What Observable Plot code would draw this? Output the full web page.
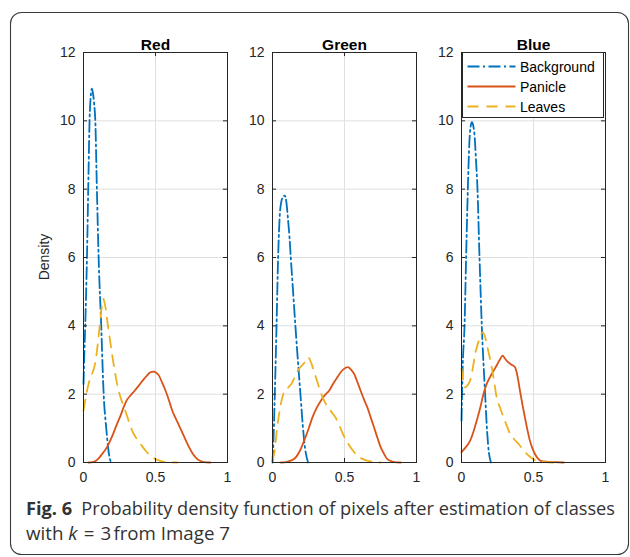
<!DOCTYPE html>
<html>
<head>
<meta charset="utf-8">
<script src="https://cdn.jsdelivr.net/npm/d3@7"></script>
<script src="https://cdn.jsdelivr.net/npm/@observablehq/plot@0.6"></script>
<style>
  html, body { margin: 0; padding: 0; background: #fff; }
  #wrap { position: relative; width: 630px; height: 557px; overflow: hidden; background: #fff; }
  #wrap > .panel { position: absolute; top: 0; }
  #wrap > svg.overlay { position: absolute; left: 0; top: 0; pointer-events: none; }
</style>
</head>
<body>
<div id="wrap"></div>
<script>
// ---------- data ----------
const panelNames = ["Red", "Green", "Blue"];
const classNames = ["Background", "Panicle", "Leaves"];
const xTicks = [0, 0.5, 1];
const yTicks = [0, 2, 4, 6, 8, 10, 12];

// Red channel
const redBackgroundX = [0, 0.006, 0.012, 0.024, 0.035, 0.042, 0.05, 0.058, 0.066, 0.074, 0.082, 0.093, 0.105, 0.123, 0.14, 0.158, 0.175, 0.19];
const redBackgroundY = [2.3, 3.2, 4.0, 6.0, 8.5, 10.0, 10.7, 10.94, 10.8, 10.5, 10.0, 8.0, 6.0, 4.0, 2.0, 1.0, 0.3, 0];
const redPanicleX = [0.035, 0.07, 0.1, 0.13, 0.163, 0.2, 0.233, 0.26, 0.279, 0.3, 0.326, 0.355, 0.384, 0.415, 0.442, 0.465, 0.484, 0.505, 0.523, 0.545, 0.57, 0.595, 0.616, 0.645, 0.675, 0.705, 0.733, 0.76, 0.79, 0.83, 0.88];
const redPanicleY = [0, 0.02, 0.1, 0.25, 0.45, 0.78, 1.13, 1.4, 1.62, 1.82, 1.96, 2.1, 2.25, 2.42, 2.55, 2.64, 2.66, 2.63, 2.55, 2.35, 2.1, 1.8, 1.52, 1.25, 0.98, 0.7, 0.45, 0.25, 0.1, 0.02, 0];
const redLeavesX = [0, 0.02, 0.035, 0.06, 0.081, 0.1, 0.115, 0.128, 0.137, 0.15, 0.17, 0.198, 0.22, 0.244, 0.27, 0.29, 0.315, 0.337, 0.365, 0.395, 0.43, 0.465, 0.5, 0.535, 0.58, 0.65];
const redLeavesY = [1.52, 2.0, 2.3, 2.6, 2.9, 3.5, 4.1, 4.6, 4.79, 4.6, 4.0, 3.18, 2.6, 2.1, 1.75, 1.52, 1.2, 0.94, 0.72, 0.55, 0.35, 0.2, 0.1, 0.05, 0.01, 0];

// Green channel
const greenBackgroundX = [0, 0.008, 0.016, 0.028, 0.039, 0.05, 0.062, 0.074, 0.085, 0.097, 0.108, 0.118, 0.127, 0.143, 0.159, 0.176, 0.194, 0.21, 0.225, 0.247];
const greenBackgroundY = [0, 0.8, 2.0, 4.0, 6.0, 7.2, 7.65, 7.78, 7.81, 7.6, 7.1, 6.6, 6.0, 5.0, 4.0, 3.0, 2.0, 1.1, 0.45, 0];
const greenPanicleX = [0.058, 0.1, 0.15, 0.185, 0.22, 0.25, 0.278, 0.307, 0.336, 0.365, 0.393, 0.42, 0.451, 0.475, 0.497, 0.512, 0.524, 0.545, 0.566, 0.59, 0.612, 0.635, 0.658, 0.682, 0.705, 0.728, 0.751, 0.775, 0.797, 0.84, 0.89];
const greenPanicleY = [0, 0.02, 0.1, 0.3, 0.64, 0.98, 1.33, 1.6, 1.81, 1.98, 2.1, 2.3, 2.5, 2.65, 2.74, 2.78, 2.79, 2.72, 2.6, 2.35, 2.1, 1.85, 1.62, 1.32, 1.03, 0.73, 0.45, 0.25, 0.1, 0.02, 0];
const greenLeavesX = [0, 0.015, 0.028, 0.04, 0.05, 0.065, 0.085, 0.11, 0.131, 0.155, 0.177, 0.2, 0.224, 0.247, 0.27, 0.293, 0.316, 0.339, 0.362, 0.385, 0.415, 0.443, 0.47, 0.5, 0.53, 0.558, 0.59, 0.627, 0.68, 0.75];
const greenLeavesY = [0.05, 0.35, 0.85, 1.25, 1.52, 1.85, 2.1, 2.2, 2.3, 2.5, 2.7, 2.82, 2.93, 3.08, 2.9, 2.6, 2.3, 2.0, 1.78, 1.62, 1.45, 1.28, 1.02, 0.74, 0.52, 0.35, 0.2, 0.1, 0.03, 0];

// Blue channel
const blueBackgroundX = [0, 0.009, 0.021, 0.032, 0.044, 0.055, 0.064, 0.072, 0.082, 0.092, 0.1, 0.111, 0.125, 0.141, 0.164, 0.178, 0.19, 0.205];
const blueBackgroundY = [1.23, 2.9, 4.0, 6.0, 8.0, 9.4, 9.85, 9.96, 9.85, 9.5, 8.9, 8.0, 6.0, 4.0, 2.0, 0.9, 0.3, 0];
const bluePanicleX = [0, 0.03, 0.06, 0.083, 0.106, 0.13, 0.152, 0.175, 0.198, 0.221, 0.244, 0.265, 0.286, 0.3, 0.32, 0.345, 0.372, 0.39, 0.406, 0.423, 0.44, 0.457, 0.475, 0.492, 0.51, 0.53, 0.55, 0.6, 0.65, 0.71];
const bluePanicleY = [0.3, 0.45, 0.64, 0.9, 1.23, 1.6, 2.0, 2.3, 2.5, 2.67, 2.84, 3.0, 3.13, 3.05, 2.95, 2.87, 2.79, 2.5, 2.1, 1.7, 1.33, 0.97, 0.64, 0.42, 0.25, 0.12, 0.05, 0.02, 0.01, 0];
const blueLeavesX = [0, 0.012, 0.025, 0.04, 0.06, 0.078, 0.095, 0.112, 0.129, 0.148, 0.162, 0.175, 0.192, 0.21, 0.227, 0.244, 0.268, 0.291, 0.314, 0.337, 0.366, 0.395, 0.423, 0.452, 0.487, 0.522, 0.58, 0.64];
const blueLeavesY = [2.75, 2.4, 2.2, 2.25, 2.4, 2.75, 3.18, 3.45, 3.67, 3.81, 3.7, 3.47, 3.15, 2.79, 2.35, 1.91, 1.6, 1.33, 1.08, 0.84, 0.68, 0.55, 0.4, 0.26, 0.13, 0.05, 0.01, 0];

// ---------- styles ----------
const classColors = ["#0072BD", "#D95319", "#EDB120"];
const classDash = ["12,3.5,2,3.5", null, "11,8"];
const axisColor = "#262626";
const gridColor = "#dfdfdf";
const tickFont = "'Liberation Sans', Arial, Helvetica, sans-serif";

const panelSeries = [
  [[redBackgroundX, redBackgroundY], [redPanicleX, redPanicleY], [redLeavesX, redLeavesY]],
  [[greenBackgroundX, greenBackgroundY], [greenPanicleX, greenPanicleY], [greenLeavesX, greenLeavesY]],
  [[blueBackgroundX, blueBackgroundY], [bluePanicleX, bluePanicleY], [blueLeavesX, blueLeavesY]]
];
const panelLefts = [43, 232, 421];

const wrap = document.getElementById("wrap");

function makePanel(name, series) {
  const lines = series.map(([xs, ys], i) => Plot.line(ys, {
    x: xs, y: ys, stroke: classColors[i], strokeWidth: 1.8,
    strokeDasharray: classDash[i] || undefined, curve: "monotone-x"
  }));
  return Plot.plot({
    width: 194, height: 490,
    marginLeft: 40, marginRight: 10, marginTop: 52, marginBottom: 28,
    x: {domain: [0, 1]},
    y: {domain: [0, 12]},
    style: {fontFamily: tickFont, fontSize: "14px", color: axisColor, background: "transparent", overflow: "visible"},
    marks: [
      Plot.gridX(xTicks, {stroke: gridColor, strokeOpacity: 1}),
      Plot.gridY(yTicks, {stroke: gridColor, strokeOpacity: 1}),
      ...lines,
      Plot.frame({stroke: axisColor, strokeWidth: 1}),
      Plot.ruleY(yTicks, {x1: 0, x2: 0.028, stroke: axisColor}),
      Plot.ruleY(yTicks, {x1: 0.972, x2: 1, stroke: axisColor}),
      Plot.ruleX(xTicks, {y1: 0, y2: 0.12, stroke: axisColor}),
      Plot.ruleX(xTicks, {y1: 11.88, y2: 12, stroke: axisColor}),
      Plot.axisX(xTicks, {tickSize: 0, tickPadding: 10, label: null, fill: axisColor, fontSize: 14, tickFormat: d => String(d)}),
      Plot.axisY(yTicks, {tickSize: 0, tickPadding: 8, label: null, fill: axisColor, fontSize: 14, tickFormat: d => String(d)}),
      Plot.text([name], {text: d => d, frameAnchor: "top", dy: -14, fontWeight: "bold", fontSize: 15.5, fill: "#000"})
    ]
  });
}

panelNames.forEach((name, i) => {
  const svg = makePanel(name, panelSeries[i]);
  svg.classList.add("panel");
  svg.style.left = panelLefts[i] + "px";
  wrap.appendChild(svg);
});

// ---------- overlay: border, y label, legend, caption ----------
const ov = d3.select(wrap).append("svg")
  .attr("class", "overlay").attr("width", 630).attr("height", 557);

ov.append("rect")
  .attr("x", 10.5).attr("y", 12.5).attr("width", 618).attr("height", 542)
  .attr("rx", 11).attr("fill", "none").attr("stroke", "#3a3a3a").attr("stroke-width", 1.1);

ov.append("text")
  .attr("transform", "translate(49,257) rotate(-90)")
  .attr("text-anchor", "middle")
  .attr("font-family", tickFont).attr("font-size", 14).attr("fill", axisColor)
  .text("Density");

// legend (in the Blue panel, top right)
const lg = ov.append("g");
lg.append("rect").attr("x", 462.5).attr("y", 52.5).attr("width", 141).attr("height", 65)
  .attr("fill", "#fff").attr("stroke", axisColor).attr("stroke-width", 1);
classNames.forEach((c, i) => {
  const yy = 66.5 + i * 20;
  lg.append("line").attr("x1", 467.5).attr("x2", 515.5).attr("y1", yy).attr("y2", yy)
    .attr("stroke", classColors[i]).attr("stroke-width", 1.8)
    .attr("stroke-dasharray", classDash[i] || null);
  lg.append("text").attr("x", 520).attr("y", yy + 5)
    .attr("font-family", tickFont).attr("font-size", 14).attr("fill", "#000").text(c);
});

// caption
const capFont = "'Open Sans', 'Noto Sans', sans-serif";
const cap1 = ov.append("text").attr("x", 26).attr("y", 515)
  .attr("font-family", capFont).attr("font-size", 18).attr("fill", "#333")
  .attr("textLength", 589).attr("lengthAdjust", "spacingAndGlyphs");
cap1.append("tspan").attr("font-weight", "bold").text("Fig. 6");
cap1.append("tspan").attr("dx", 9).text("Probability density function of pixels after estimation of classes");

const cap2 = ov.append("text").attr("x", 26).attr("y", 540)
  .attr("font-family", capFont).attr("font-size", 18).attr("fill", "#333")
  .attr("textLength", 204).attr("lengthAdjust", "spacingAndGlyphs");
cap2.append("tspan").text("with ");
cap2.append("tspan").attr("font-style", "italic").text("k");
cap2.append("tspan").attr("dx", 6).text("=");
cap2.append("tspan").attr("dx", 6).text("3");
cap2.append("tspan").attr("dx", 2).text("from Image 7");
</script>
</body>
</html>
